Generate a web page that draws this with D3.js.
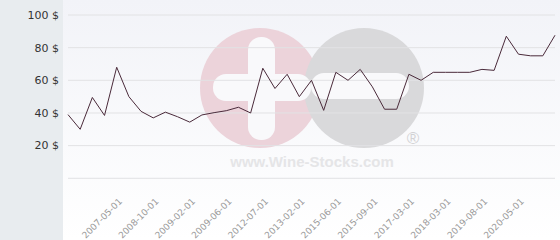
<!DOCTYPE html>
<html>
<head>
<meta charset="utf-8">
<script src="https://cdn.jsdelivr.net/npm/d3@7"></script>
<style>
  body { margin: 0; background: #fff; }
  svg { display: block; }
</style>
</head>
<body>
<div id="chart"></div>
<script>
// prices, one per sale
var prices = [39, 30, 49.5, 38.5, 68, 50, 41, 37, 40.5, 37.7, 34.4, 38.8, 40.2, 41.4, 43.5, 40,
              67.4, 55, 63.7, 50, 60, 41.6, 64.9, 60, 66.7, 56, 42.3, 42.3, 63.7, 60,
              64.9, 64.9, 64.9, 64.9, 66.7, 66.1, 87, 76, 75, 75, 87.6]

// the dates shown on the x axis and the sale they sit under
var labelDates = ["2007-05-01", "2008-10-01", "2009-02-01", "2009-06-01", "2012-07-01", "2013-02-01",
                  "2015-06-01", "2015-09-01", "2017-03-01", "2018-03-01", "2019-08-01", "2020-05-01"]
var labelIdx = [4, 7, 10, 13, 16, 19, 22, 25, 28, 31, 34, 37]

var yTicks = [0, 20, 40, 60, 80, 100]

var width = 560
var height = 240

var svg = d3.select("#chart")
  .append("svg")
  .attr("width", width)
  .attr("height", height)

// left grey panel and plot background
svg.append("rect")
  .attr("width", 63).attr("height", height)
  .attr("fill", "#e8ecef")

var grad = svg.append("defs").append("linearGradient")
  .attr("id", "bg").attr("x1", 0).attr("y1", 0).attr("x2", 0).attr("y2", 1)
grad.append("stop").attr("offset", "0%").attr("stop-color", "#f2f3f8")
grad.append("stop").attr("offset", "100%").attr("stop-color", "#ffffff")

svg.append("rect")
  .attr("x", 63).attr("width", width - 63).attr("height", height)
  .attr("fill", "url(#bg)")

//scales
var x = d3.scaleLinear()
  .domain([0, prices.length - 1])
  .range([68, 555])

var y = d3.scaleLinear()
  .domain([0, 100])
  .range([178.3, 15])

//Watermark logo
var wm = svg.append("g")
wm.append("circle").attr("cx", 260).attr("cy", 88).attr("r", 60).attr("fill", "#ecd3da")
wm.append("circle").attr("cx", 364).attr("cy", 88).attr("r", 60).attr("fill", "#d9d9db")
wm.append("rect").attr("x", 248).attr("y", 37).attr("width", 27).attr("height", 103)
  .attr("rx", 13).attr("fill", "#f9f9fb")
wm.append("rect").attr("x", 213).attr("y", 74).attr("width", 98).attr("height", 27)
  .attr("rx", 13).attr("fill", "#f9f9fb")
wm.append("rect").attr("x", 311).attr("y", 73).attr("width", 98).attr("height", 26)
  .attr("rx", 13).attr("fill", "#f9f9fb")
wm.append("text")
  .text("www.Wine-Stocks.com")
  .attr("x", 312).attr("y", 167)
  .attr("text-anchor", "middle")
  .style("font-family", "Liberation Sans, Arial, sans-serif")
  .style("font-weight", "bold")
  .style("font-size", "15px")
  .attr("fill", "#e5e5e7")
wm.append("text")
  .text("®")
  .attr("x", 413).attr("y", 138)
  .attr("text-anchor", "middle")
  .attr("dy", "0.35em")
  .style("font-family", "Liberation Sans, Arial, sans-serif")
  .style("font-size", "17px")
  .attr("fill", "#d2d2d4")

//grid lines
svg.append("g")
  .selectAll("line")
  .data(yTicks)
  .enter().append("line")
  .attr("x1", x(0)).attr("x2", x(prices.length - 1))
  .attr("y1", function (d) { return y(d) })
  .attr("y2", function (d) { return y(d) })
  .attr("stroke", "#e2e2e4")
  .attr("stroke-width", 1)

//y labels
svg.append("g")
  .selectAll("text")
  .data(yTicks.filter(function (d) { return d > 0 }))
  .enter().append("text")
  .text(function (d) { return d + " $" })
  .attr("x", 59)
  .attr("y", function (d) { return y(d) })
  .attr("dy", "0.35em")
  .attr("text-anchor", "end")
  .style("font-family", "DejaVu Sans, sans-serif")
  .style("font-size", "11px")
  .attr("fill", "#333")

//x labels
svg.append("g")
  .selectAll("text")
  .data(labelDates)
  .enter().append("text")
  .text(function (d) { return d })
  .attr("text-anchor", "end")
  .attr("transform", function (d, i) {
    return "translate(" + (x(labelIdx[i]) + 6) + ",202) rotate(-45)"
  })
  .style("font-family", "DejaVu Sans, sans-serif")
  .style("font-size", "9px")
  .attr("fill", "#9a9a9a")

//the price line
var line = d3.line()
  .x(function (d, i) { return x(i) })
  .y(function (d) { return y(d) })

svg.append("path")
  .datum(prices)
  .attr("d", line)
  .attr("fill", "none")
  .attr("stroke", "#4a2a3a")
  .attr("stroke-width", 1)
</script>
</body>
</html>
